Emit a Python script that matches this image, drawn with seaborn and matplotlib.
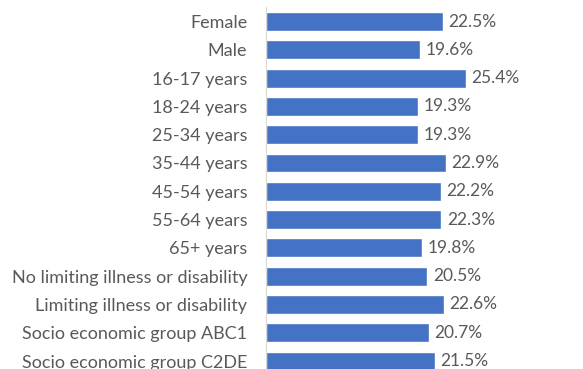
import matplotlib.pyplot as plt
import pandas as pd
import seaborn as sns

categories = ['Female', 'Male', '16-17 years', '18-24 years', '25-34 years',
              '35-44 years', '45-54 years', '55-64 years', '65+ years',
              'No limiting illness or disability', 'Limiting illness or disability',
              'Socio economic group ABC1', 'Socio economic group C2DE']
values = [22.5, 19.6, 25.4, 19.3, 19.3, 22.9, 22.2, 22.3, 19.8, 20.5, 22.6, 20.7, 21.5]

df = pd.DataFrame({'group': categories, 'pct': values})

sns.set_style('white')
plt.rcParams['font.family'] = ['Lato', 'DejaVu Sans']

fig = plt.figure(figsize=(5.83, 3.69), dpi=100)
ax = fig.add_axes([266 / 583, 0, 1 - 266 / 583, 1])

sns.barplot(data=df, x='pct', y='group', orient='h', color='#4472C4',
            saturation=1, width=0.67, ax=ax)

ax.set_xlim(0, 40.3)
ax.set_ylim(12.28, -0.76)
ax.set_xlabel('')
ax.set_ylabel('')
ax.set_xticks([])
ax.tick_params(axis='y', length=0, pad=13.5, labelsize=13, labelcolor='#595959')

for s in ['top', 'right', 'bottom']:
    ax.spines[s].set_visible(False)
ax.spines['left'].set_color('#D9D9D9')
ax.spines['left'].set_linewidth(0.8)
ax.spines['left'].set_bounds(12.28, -0.5)

ax.bar_label(ax.containers[0], labels=[f'{v:.1f}%' for v in values],
             padding=4, fontsize=12.5, color='#595959')

fig.savefig('out.png', dpi=100)
